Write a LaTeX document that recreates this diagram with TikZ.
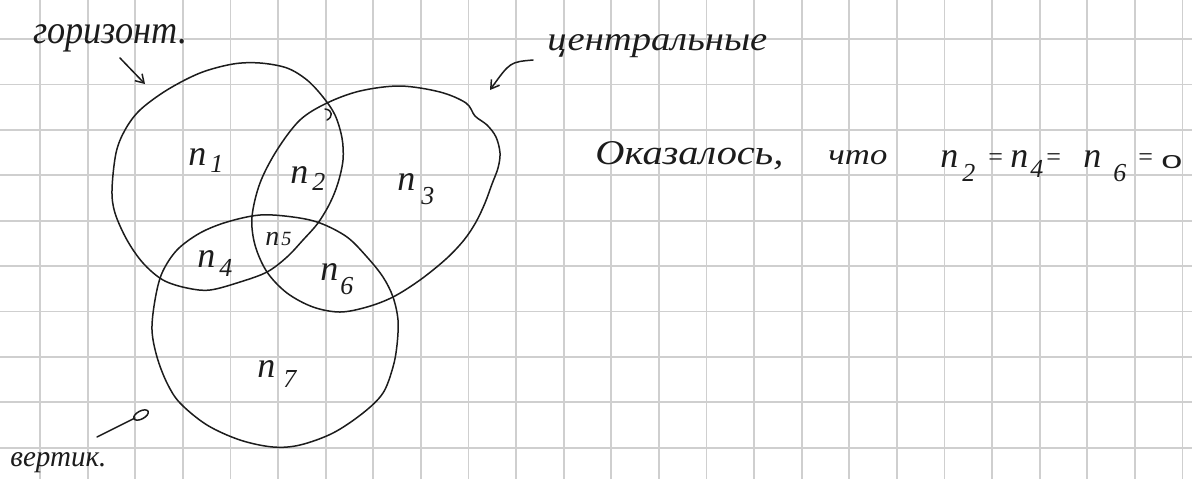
\documentclass[tikz,border=0pt]{standalone}
\usepackage{fontspec}
\setmainfont{Liberation Serif}
\newfontfamily\handsans{Liberation Sans}
\usepackage{graphicx}
\usetikzlibrary{arrows.meta}
\definecolor{inkc}{HTML}{1C1C1C}
\definecolor{gridc}{HTML}{CFCFCF}
\newcommand{\nsub}[3][1pt]{n\kern#1\raisebox{#2}{\scalebox{0.72}{#3}}}
\begin{document}
\begin{tikzpicture}[x=0.5pt,y=-0.5pt,
  ink/.style={draw=inkc, line width=0.75pt, line cap=round, line join=round},
  gridline/.style={draw=gridc, line width=0.9pt},
  hand/.style={inner sep=0pt, anchor=base west, text=inkc},
  lbl/.style={hand, font=\fontsize{18}{18}\selectfont\itshape},
  txt/.style={hand, font=\fontsize{18}{18}\selectfont\itshape},
  eq/.style={hand, font=\fontsize{13}{13}\selectfont},
  arr/.style={ink, -{Straight Barb[length=4pt,width=5pt]}},
]
\useasboundingbox[fill=white] (0,0) rectangle (1192,479);
% squared paper
\foreach \i in {0,...,24} \draw[gridline] ({40+47.6*\i},0) -- ({40+47.6*\i},479);
\foreach \j in {0,...,9} \draw[gridline] (0,{39+45.4*\j}) -- (1192,{39+45.4*\j});

% set "horizontal"
\draw[ink] plot[smooth cycle, tension=0.55] coordinates {(112,190) (116,153) (125,130) (140,110) (167,90) (200,73) (233,64) (260,63) (287,68) (307,80) (323,97) (335,115) (342,138) (343,160) (338,183) (330,203) (318,223) (303,240) (287,257) (267,272) (240,282) (210,290) (187,288) (163,280) (143,263) (127,240) (115,213)};
\draw[ink] (325,109) .. controls (333,110) and (333,117) .. (327,120);
% set "central"
\draw[ink] plot[smooth cycle, tension=0.55] coordinates {(400,86) (440,92) (466,103) (475,116) (487,125) (496,137) (500,153) (498,168) (492,184) (485,203) (476,222) (464,240) (446,259) (420,280) (393,297) (367,307) (340,312) (313,307) (287,293) (267,272) (255,245) (252,217) (260,183) (277,150) (300,120) (327,103) (360,91)};
% set "vertical"
\draw[ink] plot[smooth cycle, tension=0.55] coordinates {(260,215) (293,217) (320,223) (347,237) (367,257) (383,277) (393,297) (398,320) (397,345) (393,367) (383,393) (363,413) (333,433) (300,445) (273,447) (240,440) (207,425) (180,403) (167,383) (157,357) (152,330) (155,300) (162,273) (177,250) (200,233) (227,222)};

% region labels
\node[lbl] (n1) at (188,165) {\nsub[2pt]{-0.2em}{1}};
\node[lbl] (n2) at (290,183) {\nsub[2pt]{-0.2em}{2}};
\node[lbl] (n3) at (397,190) {\nsub[3pt]{-0.4em}{3}};
\node[lbl] (n4) at (197,267) {\nsub[2pt]{-0.25em}{4}};
\node[hand, font=\fontsize{14}{14}\selectfont\itshape] (n5) at (265,245) {\nsub[1pt]{0em}{5}};
\node[lbl] (n6) at (320,280) {\nsub[1pt]{-0.4em}{6}};
\node[lbl] (n7) at (257,377) {\nsub[4pt]{-0.3em}{7}};

% annotations
\node[txt] (hor) at (33,43) {\resizebox{77pt}{9.5pt}{горизонт.}};
\node[txt] (cen) at (547,50) {\resizebox{110pt}{8pt}{центральные}};
\node[txt] (ver) at (10,466) {\resizebox{48pt}{7pt}{вертик.}};

\coordinate (a1s) at (120,58);  \coordinate (a1e) at (145,84);
\coordinate (a2s) at (533,60);  \coordinate (a2e) at (490,90);
\coordinate (a3s) at (97,437);  \coordinate (a3e) at (135,418);
\draw[arr] (a1s) -- (a1e);
\draw[arr] (a2s) .. controls (510,62) .. (a2e);
\draw[ink] (a3s) -- (a3e);
\draw[ink, rotate around={28:(141,415)}] (141,415) ellipse [x radius=8, y radius=4];

% statement
\node[txt] (ok) at (595,164) {\resizebox{94pt}{11.5pt}{Оказалось,}};
\node[txt] (chto) at (828,164) {\resizebox{29.5pt}{7pt}{что}};
\node[txt] (e1) at (940,167) {\nsub[2pt]{-0.4em}{2}};
\node[eq] (q1) at (988,165) {=};
\node[txt] (e2) at (1010,167) {\nsub[1pt]{-0.3em}{4}};
\node[eq] (q2) at (1046,165) {=};
\node[txt] (e3) at (1083,167) {\nsub[6pt]{-0.4em}{6}};
\node[eq] (q3) at (1138,165) {=};
\node[hand, font=\handsans\fontsize{12}{12}\selectfont] (zero) at (1161,168) {\resizebox{10.5pt}{6.5pt}{0}};
\end{tikzpicture}
\end{document}
